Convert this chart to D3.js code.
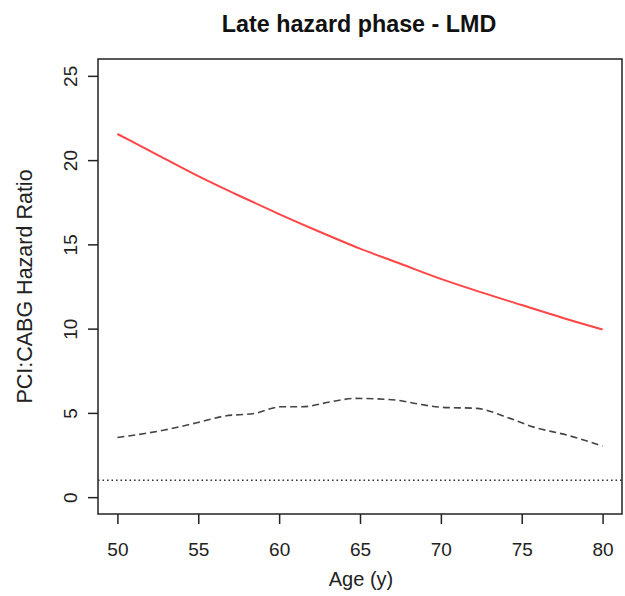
<!DOCTYPE html>
<html><head><meta charset="utf-8">
<script src="https://cdn.jsdelivr.net/npm/d3@7"></script>
<style>body{margin:0;background:#fff}svg{display:block}text{font-family:"Liberation Sans",Arial,sans-serif}</style>
</head><body>
<svg id="c" width="625" height="596"></svg>
<script>
const title = "Late hazard phase - LMD";
const xLabel = "Age (y)";
const yLabel = "PCI:CABG Hazard Ratio";
const xTicks = [50, 55, 60, 65, 70, 75, 80];
const yTicks = [0, 5, 10, 15, 20, 25];
const estAge = [50, 52.5, 55, 57.5, 60, 62.5, 65, 67.5, 70, 72.5, 75, 77.5, 80];
const estHR  = [21.55, 20.3, 19.05, 17.9, 16.8, 15.75, 14.75, 13.85, 12.95, 12.15, 11.4, 10.65, 9.95];
const ciAge = [50, 51.7, 52.9, 55.4, 56.6, 58.5, 60.1, 61.4, 63.2, 64.7, 67.2, 68.4, 70.1, 72.2, 74.0, 75.7, 77.8, 80];
const ciHR  = [3.54, 3.78, 3.98, 4.53, 4.81, 4.97, 5.36, 5.36, 5.66, 5.86, 5.76, 5.56, 5.33, 5.27, 4.77, 4.17, 3.68, 3.03];
const refHR = 1;

const svg = d3.select("#c");
const L = 98, R = 622, T = 59, B = 514;
const x = d3.scaleLinear().domain([48.8, 81.2]).range([L, R]);
const y = d3.scaleLinear().domain([-1, 26]).range([B, T]);

svg.append("rect").attr("x", L).attr("y", T).attr("width", R - L).attr("height", B - T)
  .attr("fill", "none").attr("stroke", "#222").attr("stroke-width", 1.5);

const xa = svg.append("g").attr("transform", `translate(0,${B})`)
  .call(d3.axisBottom(x).tickValues(xTicks).tickSize(10).tickPadding(19).tickFormat(d3.format("d")));
xa.select(".domain").remove();
xa.selectAll("line").attr("stroke", "#222").attr("stroke-width", 1.5);
xa.selectAll("text").attr("font-size", 19).attr("fill", "#222");

const ya = svg.append("g").attr("transform", `translate(${L},0)`)
  .call(d3.axisLeft(y).tickValues(yTicks).tickSize(10).tickFormat(d3.format("d")));
ya.select(".domain").remove();
ya.selectAll("line").attr("stroke", "#222").attr("stroke-width", 1.5);
ya.selectAll("text").attr("font-size", 19).attr("fill", "#222")
  .attr("text-anchor", "middle").attr("x", null)
  .attr("transform", "translate(-28,0) rotate(-90)").attr("dy", "0.35em");

const line = d3.line().x(d => x(d[0])).y(d => y(d[1]));

svg.append("line").attr("x1", L).attr("x2", R).attr("y1", y(refHR)).attr("y2", y(refHR))
  .attr("stroke", "#333").attr("stroke-width", 1.6).attr("stroke-dasharray", "1.6,2.9");

svg.append("path").datum(ciAge.map((a, i) => [a, ciHR[i]])).attr("d", line.curve(d3.curveMonotoneX))
  .attr("fill", "none").attr("stroke", "#444").attr("stroke-width", 1.6).attr("stroke-dasharray", "7,4");

svg.append("path").datum(estAge.map((a, i) => [a, estHR[i]])).attr("d", line.curve(d3.curveMonotoneX))
  .attr("fill", "none").attr("stroke", "#ff4545").attr("stroke-width", 2);

svg.append("text").attr("x", 359).attr("y", 32).attr("text-anchor", "middle")
  .attr("font-size", 23.3).attr("font-weight", "bold").attr("fill", "#111").text(title);
svg.append("text").attr("x", 361).attr("y", 586).attr("text-anchor", "middle")
  .attr("font-size", 20).attr("fill", "#222").text(xLabel);
svg.append("text").attr("transform", `translate(32,${(T + B) / 2}) rotate(-90)`).attr("text-anchor", "middle")
  .attr("font-size", 21.5).attr("fill", "#222").text(yLabel);
</script>
</body></html>
